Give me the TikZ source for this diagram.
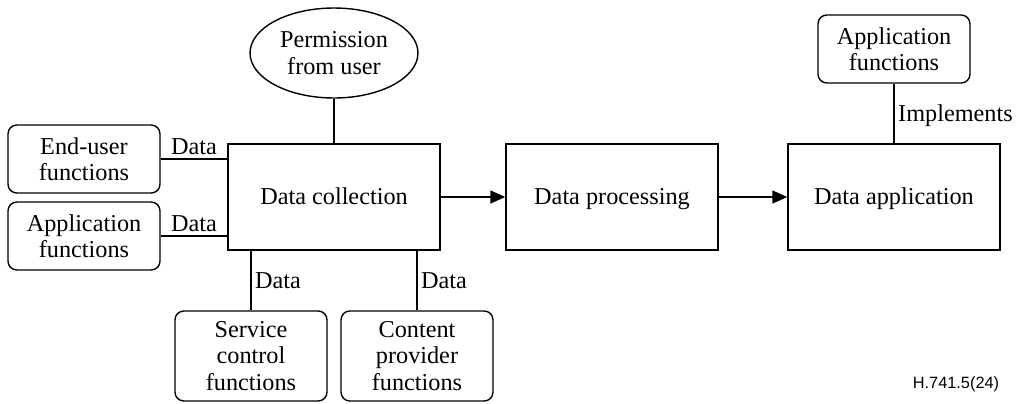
\documentclass[tikz,border=0pt]{standalone}
\usepackage{fontspec}
\setmainfont{Liberation Serif}
\newfontfamily\tagfont{Liberation Sans}
\usetikzlibrary{shapes.geometric,arrows.meta}
\tikzset{% This is the style settings for blocks and links
    blk/.style={rectangle, draw=black, line width=0.8pt, minimum width=4.24cm, minimum height=2.12cm, text height=2ex, text depth=0.2ex, font=\fontsize{13.8}{15}\selectfont},
    fn/.style={rectangle, rounded corners=5pt, draw=black, line width=0.8pt, minimum width=3.04cm, minimum height=1.36cm, align=center, inner sep=1pt, font=\fontsize{13.8}{15}\selectfont},
    perm/.style={ellipse, draw=black, line width=0.8pt, minimum width=3.36cm, minimum height=1.8cm, align=center, inner sep=1pt, font=\fontsize{13.8}{15}\selectfont},
    ln/.style={line width=0.8pt},
    arr/.style={-{Triangle[length=0.3cm,width=0.26cm]}, line width=0.8pt},
    lbl/.style={inner sep=2pt, font=\fontsize{13.8}{15}\selectfont}}

\begin{document}
\begin{tikzpicture}[x=0.02cm,y=-0.02cm]
    \useasboundingbox (0,0) rectangle (1019,403);

    \node[blk] (dc) at (334,197) {Data collection};
    \node[blk] (dp) at (612,197) {Data processing};
    \node[blk] (da) at (894,197) {Data application};
    \node[perm] (pu) at (334,53) {Permission\\from user};
    \node[fn] (eu) at (84,159) {End-user\\functions};
    \node[fn] (af) at (84,236) {Application\\functions};
    \node[fn, minimum height=1.8cm] (sc) at (251,356) {Service\\control\\functions};
    \node[fn, minimum height=1.8cm] (cp) at (417,356) {Content\\provider\\functions};
    \node[fn] (ap) at (894,49) {Application\\functions};
    \node[font=\tagfont\fontsize{9.3}{11}\selectfont] (tag) at (956,384) {H.741.5(24)};

    \draw[ln] (pu) -- (dc);
    \draw[ln] (eu.east) -- (eu.east -| dc.west) node[lbl, midway, above] {Data};
    \draw[ln] (af.east) -- (af.east -| dc.west) node[lbl, midway, above] {Data};
    \draw[ln] (sc.north |- dc.south) -- (sc.north) node[lbl, midway, right] {Data};
    \draw[ln] (cp.north |- dc.south) -- (cp.north) node[lbl, midway, right] {Data};
    \draw[ln] (ap) -- (da) node[lbl, midway, right, yshift=-1pt] {Implements};
    \draw[arr] (dc) -- (dp);
    \draw[arr] (dp) -- (da);
\end{tikzpicture}
\end{document}
